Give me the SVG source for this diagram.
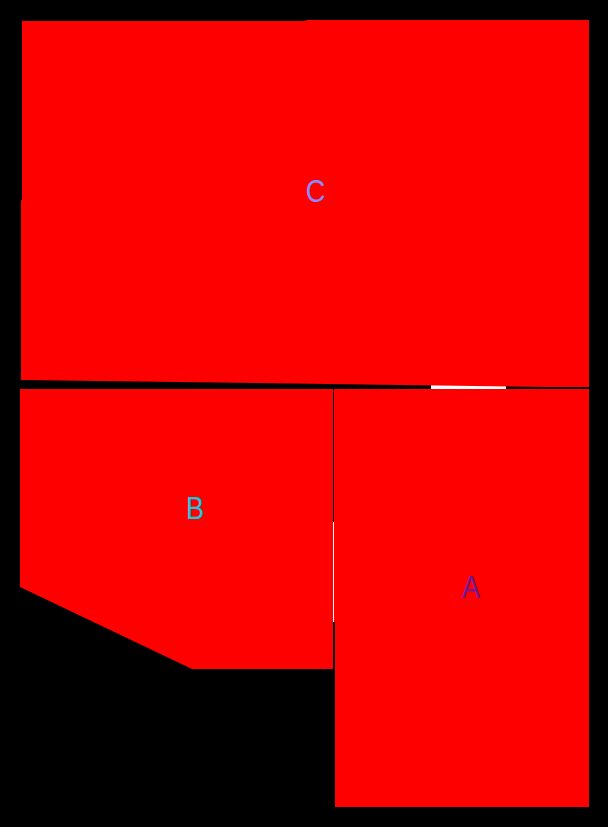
<svg xmlns="http://www.w3.org/2000/svg" width="608" height="827" viewBox="0 0 608 827">
<style>
.room{fill:#ff0000;stroke:none}
.lbl{font-family:"Liberation Sans",Arial,sans-serif;font-size:32px;text-anchor:middle}
.gap{fill:#ffffff}
</style>
<rect x="0" y="0" width="608" height="827" fill="#000000"/>
<rect class="gap" x="431" y="384" width="75" height="5"/>
<rect class="gap" x="333" y="522" width="1" height="100"/>
<rect class="gap" x="333" y="599" width="2" height="23"/>
<g id="C">
<polygon class="room" points="22,21 306,21 306,20 589,20 589,387 548,387 21,380 21,200 22,200"/>
<text class="lbl" x="315.5" y="202" fill="#8a8aff" transform="translate(315.5 0) scale(0.85 1) translate(-315.5 0)">C</text>
</g>
<g id="B">
<polygon class="room" points="20,389 333,389 333,669 192,669 20,587"/>
<text class="lbl" x="195" y="519" fill="#18c8e0" transform="translate(195 0) scale(0.85 1) translate(-195 0)">B</text>
</g>
<g id="A">
<polygon class="room" points="334,389 589,389 589,807 335,807 335,622 334,622"/>
<text class="lbl" x="471" y="598" fill="#6a1a9a" transform="translate(471 0) scale(0.85 1) translate(-471 0)">A</text>
</g>
</svg>
